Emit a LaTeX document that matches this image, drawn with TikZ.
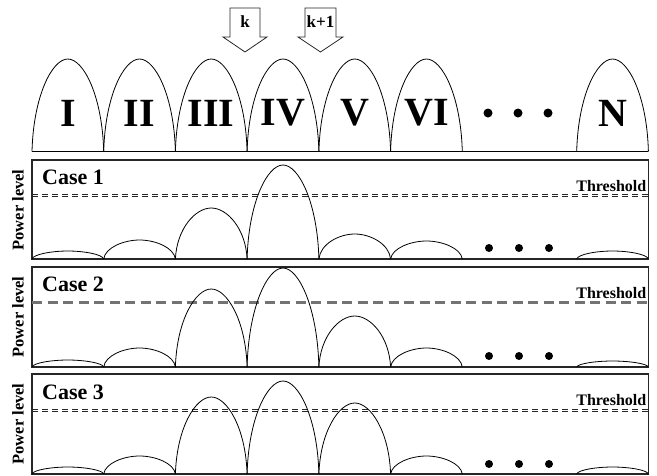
\documentclass[tikz,border=0pt]{standalone}
\usepackage{fontspec}
\setmainfont{Liberation Serif}
\newcommand\myarch[4]{%
  \draw[archline] (#1,#3) .. controls ({#1+0.02*(#2-#1)},{#3-0.6*#4}) and ({#1+0.28*(#2-#1)},{#3-#4}) .. ({0.5*(#1+#2)},{#3-#4})
   .. controls ({#2-0.28*(#2-#1)},{#3-#4}) and ({#2-0.02*(#2-#1)},{#3-0.6*#4}) .. (#2,#3);}
\tikzset{
  archline/.style={line width=0.8pt, black},
  panel/.style={draw=black!85, line width=1.1pt},
  romanlbl/.style={font=\fontsize{40}{40}\selectfont\bfseries, inner sep=0pt},
  caselbl/.style={font=\fontsize{22}{22}\selectfont\bfseries, inner sep=0pt, anchor=base west},
  thrlbl/.style={font=\fontsize{16}{16}\selectfont\bfseries, inner sep=0pt, anchor=base east, text=black},
  pwrlbl/.style={font=\fontsize{16.5}{16.5}\selectfont\bfseries, inner sep=0pt, rotate=90},
  klbl/.style={font=\fontsize{17}{17}\selectfont\bfseries, inner sep=0pt},
  arrowshape/.style={draw=black!85, line width=0.8pt, fill=white},
  thrdash/.style={line width=0.8pt, black!85, dash pattern=on 6pt off 4pt},
  thrgray/.style={line width=2.7pt, black!55, dash pattern=on 10pt off 5.5pt},
  bigdot/.style={fill=black}
}
\begin{document}
\begin{tikzpicture}[x=1pt,y=-1pt]
\useasboundingbox (0,0) rectangle (657,475);
% ---------- top row ----------
\def\xa{32}\def\xb{103.7}\def\xc{175.4}\def\xd{247.1}\def\xe{318.9}\def\xf{390.6}\def\xg{462.3}
\def\xn{576.7}\def\xm{648.4}
\draw[line width=1.2pt] (32,151.5) -- (648.4,151.5);
\myarch{\xa}{\xb}{151.5}{92.5}
\myarch{\xb}{\xc}{151.5}{92.5}
\myarch{\xc}{\xd}{151.5}{92.5}
\myarch{\xd}{\xe}{151.5}{92.5}
\myarch{\xe}{\xf}{151.5}{92.5}
\myarch{\xf}{\xg}{151.5}{92.5}
\myarch{\xn}{\xm}{151.5}{92.5}
\node[romanlbl] (r1) at (68,113) {I};
\node[romanlbl] (r2) at (139.5,113) {II};
\node[romanlbl] (r3) at (211.2,113) {III};
\node[romanlbl] (r4) at (283,113) {IV};
\node[romanlbl] (r5) at (354.7,113) {V};
\node[romanlbl] (r6) at (426.4,113) {VI};
\node[romanlbl] (rn) at (612.5,113) {N};
\fill[bigdot] (488,113) circle (4.5);
\fill[bigdot] (518,113) circle (4.5);
\fill[bigdot] (548,113) circle (4.5);
% arrows
\draw[arrowshape] (230,8) -- (260,8) -- (260,37) -- (267,37) -- (245,52) -- (223,37) -- (230,37) -- cycle;
\node[klbl] (k) at (245,22) {k};
\draw[arrowshape] (305,8) -- (336,8) -- (336,37) -- (343,37) -- (320.5,52) -- (298,37) -- (305,37) -- cycle;
\node[klbl] (k1) at (320.5,22) {k+1};
% ---------- panels ----------
% Case 1
\draw[panel] (32,160) rectangle (648.4,259);
\node[caselbl] (c1) at (42,184) {Case 1};
\node[thrlbl] (t1) at (646.5,191) {Threshold};
\node[pwrlbl] (p1) at (18,210) {Power level};
\draw[thrdash] (32,194) -- (648.4,194);
\draw[thrdash] (32,196.6) -- (648.4,196.6);
\myarch{\xa}{\xb}{259}{8}
\myarch{\xb}{\xc}{259}{19}
\myarch{\xc}{\xd}{259}{51}
\myarch{\xd}{\xe}{259}{94}
\myarch{\xe}{\xf}{259}{25}
\myarch{\xf}{\xg}{259}{18}
\myarch{\xn}{\xm}{259}{8}
\fill[bigdot] (489,248) circle (4);
\fill[bigdot] (519,248) circle (4);
\fill[bigdot] (549,248) circle (4);
% Case 2
\draw[panel] (32,267) rectangle (648.4,367);
\node[caselbl] (c2) at (42,291) {Case 2};
\node[thrlbl] (t2) at (646.5,298.3) {Threshold};
\node[pwrlbl] (p2) at (18,317) {Power level};
\draw[thrgray] (32,302.7) -- (648.4,302.7);
\myarch{\xa}{\xb}{367}{7}
\myarch{\xb}{\xc}{367}{19}
\myarch{\xc}{\xd}{367}{78}
\myarch{\xd}{\xe}{367}{99}
\myarch{\xe}{\xf}{367}{51}
\myarch{\xf}{\xg}{367}{19}
\myarch{\xn}{\xm}{367}{6}
\fill[bigdot] (489,356) circle (4);
\fill[bigdot] (519,356) circle (4);
\fill[bigdot] (549,356) circle (4);
% Case 3
\draw[panel] (32,374) rectangle (648.4,474);
\node[caselbl] (c3) at (42,399.3) {Case 3};
\node[thrlbl] (t3) at (646.5,405.7) {Threshold};
\node[pwrlbl] (p3) at (18,424) {Power level};
\draw[thrdash] (32,409) -- (648.4,409);
\draw[thrdash] (32,411.6) -- (648.4,411.6);
\myarch{\xa}{\xb}{474}{7}
\myarch{\xb}{\xc}{474}{18}
\myarch{\xc}{\xd}{474}{77}
\myarch{\xd}{\xe}{474}{93}
\myarch{\xe}{\xf}{474}{71}
\myarch{\xf}{\xg}{474}{18}
\myarch{\xn}{\xm}{474}{7}
\fill[bigdot] (489,464) circle (4);
\fill[bigdot] (519,464) circle (4);
\fill[bigdot] (549,464) circle (4);
\end{tikzpicture}
\end{document}
